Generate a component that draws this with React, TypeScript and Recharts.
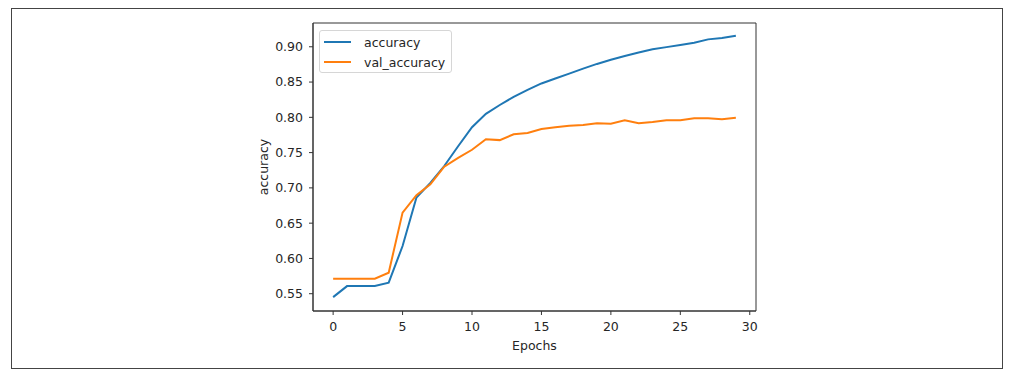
import React from "react";
import {
  LineChart,
  Line,
  XAxis,
  YAxis,
  Legend,
  ReferenceArea,
} from "recharts";

const epochs = [0, 1, 2, 3, 4, 5, 6, 7, 8, 9, 10, 11, 12, 13, 14, 15, 16, 17, 18, 19, 20, 21, 22, 23, 24, 25, 26, 27, 28, 29];

const accuracy = [
  0.5452, 0.5608, 0.5608, 0.5608, 0.5656, 0.6176, 0.6864, 0.707, 0.731, 0.759,
  0.786, 0.805, 0.8175, 0.829, 0.8388, 0.848, 0.855, 0.862, 0.869, 0.8757,
  0.8815, 0.887, 0.892, 0.8965, 0.8995, 0.9024, 0.9057, 0.9105, 0.9123, 0.9156,
];

const valAccuracy = [
  0.5713, 0.5713, 0.5713, 0.5713, 0.5798, 0.665, 0.6896, 0.705, 0.73, 0.7425,
  0.754, 0.769, 0.7677, 0.776, 0.7777, 0.7834, 0.786, 0.788, 0.789, 0.7915,
  0.791, 0.7957, 0.7915, 0.7933, 0.7957, 0.796, 0.7986, 0.7986, 0.7972, 0.7994,
];

const xTicks = [0, 5, 10, 15, 20, 25, 30];
const yTicks = [0.55, 0.6, 0.65, 0.7, 0.75, 0.8, 0.85, 0.9];

const seriesNames = ["accuracy", "val_accuracy"];
const seriesColors = ["#1f77b4", "#ff7f0e"];

const data = epochs.map((e, i) => ({
  epoch: e,
  accuracy: accuracy[i],
  val_accuracy: valAccuracy[i],
}));

const X_DOMAIN: [number, number] = [-1.45, 30.45];
const Y_DOMAIN: [number, number] = [0.5255, 0.9337];

const FONT = "'DejaVu Sans', sans-serif";
const TEXT = "#262626";
const tickStyle = { fontSize: 12.5, fill: TEXT, fontFamily: FONT };

function LegendBox() {
  return (
    <div
      style={{
        width: 131,
        height: 41,
        border: "1px solid #d6d6d6",
        borderRadius: 3,
        background: "rgba(255,255,255,0.8)",
        fontFamily: FONT,
        fontSize: 12.5,
        color: TEXT,
        boxSizing: "content-box",
      }}
    >
      {seriesNames.map((name, i) => (
        <div
          key={name}
          style={{ display: "flex", alignItems: "center", height: 20, marginTop: i === 0 ? 1 : 0 }}
        >
          <span
            style={{
              display: "inline-block",
              width: 27,
              height: 2,
              marginLeft: 4,
              marginRight: 13,
              background: seriesColors[i],
            }}
          />
          <span>{name}</span>
        </div>
      ))}
    </div>
  );
}

function YLabel(props: any) {
  const vb = props.viewBox;
  const x = vb.x + 10;
  const y = vb.y + vb.height / 2;
  return (
    <text
      x={x}
      y={y}
      transform={`rotate(-90, ${x}, ${y})`}
      textAnchor="middle"
      dominantBaseline="central"
      fontSize={12.5}
      fontFamily={FONT}
      fill={TEXT}
    >
      accuracy
    </text>
  );
}

function XLabel(props: any) {
  const vb = props.viewBox;
  return (
    <text
      x={vb.x + vb.width / 2}
      y={vb.y + 34}
      textAnchor="middle"
      dominantBaseline="central"
      fontSize={12.5}
      fontFamily={FONT}
      fill={TEXT}
    >
      Epochs
    </text>
  );
}

export default function App() {
  return (
    <div style={{ position: "absolute", left: 0, top: 0, width: 1009, height: 374, background: "#fff" }}>
      <div
        style={{
          position: "absolute",
          left: 11,
          top: 8,
          width: 990,
          height: 359,
          border: "1px solid #444",
        }}
      />
      <LineChart
        width={1009}
        height={374}
        data={data}
        margin={{ top: 23, right: 253, bottom: 23, left: 253 }}
        style={{ position: "absolute", left: 0, top: 0 }}
      >
        <XAxis
          dataKey="epoch"
          type="number"
          domain={X_DOMAIN}
          ticks={xTicks}
          allowDataOverflow
          height={40}
          tickSize={4}
          tickMargin={7}
          tick={tickStyle}
          stroke="#333"
          tickLine={{ stroke: "#333" }}
          label={<XLabel />}
        />
        <YAxis
          type="number"
          domain={Y_DOMAIN}
          ticks={yTicks}
          allowDataOverflow
          width={60}
          tickSize={4}
          tickMargin={6}
          tick={tickStyle}
          tickFormatter={(v: number) => v.toFixed(2)}
          stroke="#333"
          tickLine={{ stroke: "#333" }}
          label={<YLabel />}
        />
        <ReferenceArea
          x1={X_DOMAIN[0]}
          x2={X_DOMAIN[1]}
          y1={Y_DOMAIN[0]}
          y2={Y_DOMAIN[1]}
          fill="none"
          stroke="#333"
          strokeWidth={1}
          ifOverflow="visible"
        />
        <Line
          dataKey="accuracy"
          stroke={seriesColors[0]}
          strokeWidth={2}
          dot={false}
          isAnimationActive={false}
        />
        <Line
          dataKey="val_accuracy"
          stroke={seriesColors[1]}
          strokeWidth={2}
          dot={false}
          isAnimationActive={false}
        />
        <Legend
          layout="vertical"
          align="center"
          verticalAlign="middle"
          content={<LegendBox />}
          wrapperStyle={{ left: 319, top: 30, width: 133, height: 43 }}
        />
      </LineChart>
    </div>
  );
}
